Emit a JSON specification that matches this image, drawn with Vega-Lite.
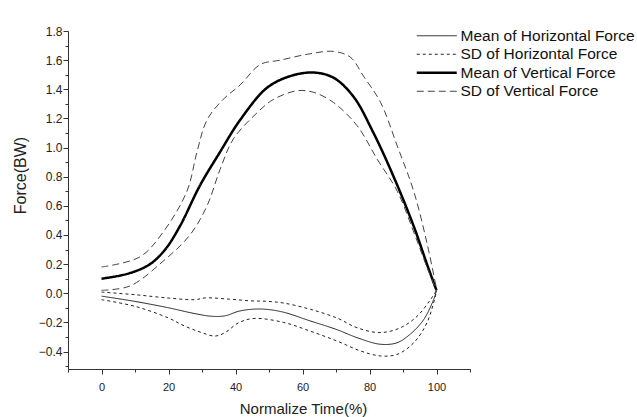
{
  "$schema": "https://vega.github.io/schema/vega-lite/v6.json",
  "autosize": {"type": "none"},
  "width": 402,
  "height": 338,
  "padding": {"left": 68, "top": 31, "right": 167, "bottom": 48},
  "background": "white",
  "config": {
    "view": {"stroke": null},
    "font": "Liberation Sans",
    "axis": {"grid": false, "domainColor": "#333", "tickColor": "#333", "labelColor": "#222", "labelFont": "Liberation Sans", "titleFont": "Liberation Sans", "titleFontWeight": "normal", "titleColor": "#222"}
  },
  "data": {"values": [
    {"t": 0, "v": 0.10, "series": "Mean of Vertical Force", "curve": "Vm"},
    {"t": 8, "v": 0.135, "series": "Mean of Vertical Force", "curve": "Vm"},
    {"t": 14.5, "v": 0.20, "series": "Mean of Vertical Force", "curve": "Vm"},
    {"t": 19, "v": 0.30, "series": "Mean of Vertical Force", "curve": "Vm"},
    {"t": 23.4, "v": 0.46, "series": "Mean of Vertical Force", "curve": "Vm"},
    {"t": 29.4, "v": 0.74, "series": "Mean of Vertical Force", "curve": "Vm"},
    {"t": 35.4, "v": 0.97, "series": "Mean of Vertical Force", "curve": "Vm"},
    {"t": 41.4, "v": 1.19, "series": "Mean of Vertical Force", "curve": "Vm"},
    {"t": 49.4, "v": 1.41, "series": "Mean of Vertical Force", "curve": "Vm"},
    {"t": 56.3, "v": 1.49, "series": "Mean of Vertical Force", "curve": "Vm"},
    {"t": 63.2, "v": 1.515, "series": "Mean of Vertical Force", "curve": "Vm"},
    {"t": 69.2, "v": 1.48, "series": "Mean of Vertical Force", "curve": "Vm"},
    {"t": 75.2, "v": 1.35, "series": "Mean of Vertical Force", "curve": "Vm"},
    {"t": 81.2, "v": 1.10, "series": "Mean of Vertical Force", "curve": "Vm"},
    {"t": 87.2, "v": 0.80, "series": "Mean of Vertical Force", "curve": "Vm"},
    {"t": 93.2, "v": 0.46, "series": "Mean of Vertical Force", "curve": "Vm"},
    {"t": 97.3, "v": 0.19, "series": "Mean of Vertical Force", "curve": "Vm"},
    {"t": 100, "v": 0.02, "series": "Mean of Vertical Force", "curve": "Vm"},

    {"t": 0, "v": 0.18, "series": "SD of Vertical Force", "curve": "Vu"},
    {"t": 11.5, "v": 0.25, "series": "SD of Vertical Force", "curve": "Vu"},
    {"t": 18.4, "v": 0.42, "series": "SD of Vertical Force", "curve": "Vu"},
    {"t": 25.5, "v": 0.70, "series": "SD of Vertical Force", "curve": "Vu"},
    {"t": 28.5, "v": 0.97, "series": "SD of Vertical Force", "curve": "Vu"},
    {"t": 31.5, "v": 1.19, "series": "SD of Vertical Force", "curve": "Vu"},
    {"t": 36.3, "v": 1.33, "series": "SD of Vertical Force", "curve": "Vu"},
    {"t": 41.4, "v": 1.43, "series": "SD of Vertical Force", "curve": "Vu"},
    {"t": 47.4, "v": 1.57, "series": "SD of Vertical Force", "curve": "Vu"},
    {"t": 53.4, "v": 1.60, "series": "SD of Vertical Force", "curve": "Vu"},
    {"t": 61.4, "v": 1.64, "series": "SD of Vertical Force", "curve": "Vu"},
    {"t": 69.2, "v": 1.66, "series": "SD of Vertical Force", "curve": "Vu"},
    {"t": 74.3, "v": 1.62, "series": "SD of Vertical Force", "curve": "Vu"},
    {"t": 78.2, "v": 1.49, "series": "SD of Vertical Force", "curve": "Vu"},
    {"t": 83.3, "v": 1.31, "series": "SD of Vertical Force", "curve": "Vu"},
    {"t": 88.3, "v": 1.01, "series": "SD of Vertical Force", "curve": "Vu"},
    {"t": 93.2, "v": 0.70, "series": "SD of Vertical Force", "curve": "Vu"},
    {"t": 97.3, "v": 0.33, "series": "SD of Vertical Force", "curve": "Vu"},
    {"t": 100, "v": 0.03, "series": "SD of Vertical Force", "curve": "Vu"},

    {"t": 0, "v": 0.02, "series": "SD of Vertical Force", "curve": "Vl"},
    {"t": 8.5, "v": 0.05, "series": "SD of Vertical Force", "curve": "Vl"},
    {"t": 18.4, "v": 0.22, "series": "SD of Vertical Force", "curve": "Vl"},
    {"t": 26.4, "v": 0.40, "series": "SD of Vertical Force", "curve": "Vl"},
    {"t": 31.5, "v": 0.60, "series": "SD of Vertical Force", "curve": "Vl"},
    {"t": 35.4, "v": 0.85, "series": "SD of Vertical Force", "curve": "Vl"},
    {"t": 39.4, "v": 1.06, "series": "SD of Vertical Force", "curve": "Vl"},
    {"t": 46.5, "v": 1.24, "series": "SD of Vertical Force", "curve": "Vl"},
    {"t": 51.3, "v": 1.33, "series": "SD of Vertical Force", "curve": "Vl"},
    {"t": 58.4, "v": 1.39, "series": "SD of Vertical Force", "curve": "Vl"},
    {"t": 63.2, "v": 1.38, "series": "SD of Vertical Force", "curve": "Vl"},
    {"t": 69.2, "v": 1.31, "series": "SD of Vertical Force", "curve": "Vl"},
    {"t": 76.3, "v": 1.15, "series": "SD of Vertical Force", "curve": "Vl"},
    {"t": 82.3, "v": 0.92, "series": "SD of Vertical Force", "curve": "Vl"},
    {"t": 88.3, "v": 0.70, "series": "SD of Vertical Force", "curve": "Vl"},
    {"t": 93.2, "v": 0.42, "series": "SD of Vertical Force", "curve": "Vl"},
    {"t": 97.3, "v": 0.17, "series": "SD of Vertical Force", "curve": "Vl"},
    {"t": 100, "v": 0.02, "series": "SD of Vertical Force", "curve": "Vl"},

    {"t": 0, "v": -0.02, "series": "Mean of Horizontal Force", "curve": "Hm"},
    {"t": 10, "v": -0.056, "series": "Mean of Horizontal Force", "curve": "Hm"},
    {"t": 20, "v": -0.10, "series": "Mean of Horizontal Force", "curve": "Hm"},
    {"t": 27.9, "v": -0.14, "series": "Mean of Horizontal Force", "curve": "Hm"},
    {"t": 32.9, "v": -0.158, "series": "Mean of Horizontal Force", "curve": "Hm"},
    {"t": 36.9, "v": -0.155, "series": "Mean of Horizontal Force", "curve": "Hm"},
    {"t": 40.9, "v": -0.124, "series": "Mean of Horizontal Force", "curve": "Hm"},
    {"t": 44.9, "v": -0.11, "series": "Mean of Horizontal Force", "curve": "Hm"},
    {"t": 49, "v": -0.11, "series": "Mean of Horizontal Force", "curve": "Hm"},
    {"t": 54.3, "v": -0.13, "series": "Mean of Horizontal Force", "curve": "Hm"},
    {"t": 62.3, "v": -0.19, "series": "Mean of Horizontal Force", "curve": "Hm"},
    {"t": 70.3, "v": -0.25, "series": "Mean of Horizontal Force", "curve": "Hm"},
    {"t": 76.3, "v": -0.305, "series": "Mean of Horizontal Force", "curve": "Hm"},
    {"t": 83.2, "v": -0.35, "series": "Mean of Horizontal Force", "curve": "Hm"},
    {"t": 88.2, "v": -0.34, "series": "Mean of Horizontal Force", "curve": "Hm"},
    {"t": 92.2, "v": -0.28, "series": "Mean of Horizontal Force", "curve": "Hm"},
    {"t": 96.2, "v": -0.18, "series": "Mean of Horizontal Force", "curve": "Hm"},
    {"t": 99.2, "v": -0.04, "series": "Mean of Horizontal Force", "curve": "Hm"},
    {"t": 100, "v": 0.02, "series": "Mean of Horizontal Force", "curve": "Hm"},

    {"t": 0, "v": 0.008, "series": "SD of Horizontal Force", "curve": "Hu"},
    {"t": 10, "v": -0.01, "series": "SD of Horizontal Force", "curve": "Hu"},
    {"t": 20, "v": -0.033, "series": "SD of Horizontal Force", "curve": "Hu"},
    {"t": 27.9, "v": -0.044, "series": "SD of Horizontal Force", "curve": "Hu"},
    {"t": 31, "v": -0.032, "series": "SD of Horizontal Force", "curve": "Hu"},
    {"t": 37.9, "v": -0.04, "series": "SD of Horizontal Force", "curve": "Hu"},
    {"t": 44.4, "v": -0.052, "series": "SD of Horizontal Force", "curve": "Hu"},
    {"t": 49, "v": -0.055, "series": "SD of Horizontal Force", "curve": "Hu"},
    {"t": 54.3, "v": -0.067, "series": "SD of Horizontal Force", "curve": "Hu"},
    {"t": 62.3, "v": -0.11, "series": "SD of Horizontal Force", "curve": "Hu"},
    {"t": 70.3, "v": -0.17, "series": "SD of Horizontal Force", "curve": "Hu"},
    {"t": 76.3, "v": -0.237, "series": "SD of Horizontal Force", "curve": "Hu"},
    {"t": 83.2, "v": -0.27, "series": "SD of Horizontal Force", "curve": "Hu"},
    {"t": 89.2, "v": -0.237, "series": "SD of Horizontal Force", "curve": "Hu"},
    {"t": 94.2, "v": -0.158, "series": "SD of Horizontal Force", "curve": "Hu"},
    {"t": 98.2, "v": -0.044, "series": "SD of Horizontal Force", "curve": "Hu"},
    {"t": 100, "v": 0.02, "series": "SD of Horizontal Force", "curve": "Hu"},

    {"t": 0, "v": -0.044, "series": "SD of Horizontal Force", "curve": "Hl"},
    {"t": 10, "v": -0.09, "series": "SD of Horizontal Force", "curve": "Hl"},
    {"t": 20, "v": -0.17, "series": "SD of Horizontal Force", "curve": "Hl"},
    {"t": 24.9, "v": -0.226, "series": "SD of Horizontal Force", "curve": "Hl"},
    {"t": 29.9, "v": -0.27, "series": "SD of Horizontal Force", "curve": "Hl"},
    {"t": 33.9, "v": -0.294, "series": "SD of Horizontal Force", "curve": "Hl"},
    {"t": 36.9, "v": -0.27, "series": "SD of Horizontal Force", "curve": "Hl"},
    {"t": 40.9, "v": -0.203, "series": "SD of Horizontal Force", "curve": "Hl"},
    {"t": 45.5, "v": -0.173, "series": "SD of Horizontal Force", "curve": "Hl"},
    {"t": 54.3, "v": -0.20, "series": "SD of Horizontal Force", "curve": "Hl"},
    {"t": 62.3, "v": -0.26, "series": "SD of Horizontal Force", "curve": "Hl"},
    {"t": 70.3, "v": -0.328, "series": "SD of Horizontal Force", "curve": "Hl"},
    {"t": 77.3, "v": -0.396, "series": "SD of Horizontal Force", "curve": "Hl"},
    {"t": 83.2, "v": -0.43, "series": "SD of Horizontal Force", "curve": "Hl"},
    {"t": 88.2, "v": -0.42, "series": "SD of Horizontal Force", "curve": "Hl"},
    {"t": 93.2, "v": -0.34, "series": "SD of Horizontal Force", "curve": "Hl"},
    {"t": 97.2, "v": -0.20, "series": "SD of Horizontal Force", "curve": "Hl"},
    {"t": 100, "v": 0.01, "series": "SD of Horizontal Force", "curve": "Hl"}
  ]},
  "resolve": {"axis": {"x": "independent", "y": "independent"}},
  "layer": [
    {
      "mark": {"type": "line", "interpolate": "catmull-rom"},
      "encoding": {
        "x": {"field": "t", "type": "quantitative", "scale": {"domain": [-10, 110], "nice": false, "zero": false},
          "axis": {"orient": "bottom", "values": [0, 20, 40, 60, 80, 100], "tickSize": 5, "labelFontSize": 11, "labelPadding": 7, "title": "Normalize Time(%)", "titleFontSize": 15, "titleX": 235, "titleY": 44, "titleAlign": "center", "titleBaseline": "alphabetic"}},
        "y": {"field": "v", "type": "quantitative", "scale": {"domain": [-0.52, 1.8], "nice": false, "zero": false},
          "axis": {"orient": "left", "values": [-0.4, -0.2, 0, 0.2, 0.4, 0.6, 0.8, 1.0, 1.2, 1.4, 1.6, 1.8], "format": ".1f", "tickSize": 5, "labelFontSize": 12, "labelPadding": 1, "title": "Force(BW)", "titleFontSize": 16, "titleX": -40, "titleY": 144, "titleAngle": -90, "titleAlign": "center", "titleBaseline": "bottom"}},
        "detail": {"field": "curve"},
        "color": {"field": "series", "type": "nominal", "title": null,
          "scale": {"domain": ["Mean of Horizontal Force", "SD of Horizontal Force", "Mean of Vertical Force", "SD of Vertical Force"], "range": ["#222", "#222", "#000", "#444"]},
          "legend": {"orient": "none", "legendX": 361, "legendY": -3, "symbolType": "M-4,0H4", "symbolSize": 100, "labelFontSize": 15.5, "labelLimit": 0, "labelColor": "#111", "labelFont": "Liberation Sans", "labelOffset": 16, "rowPadding": 1.5, "padding": 0,
            "encode": {"symbols": {"update": {"strokeWidth": {"signal": "datum.label === 'Mean of Vertical Force' ? 2.5 : 1"}}}}}},
        "strokeDash": {"field": "series", "type": "nominal", "title": null,
          "scale": {"domain": ["Mean of Horizontal Force", "SD of Horizontal Force", "Mean of Vertical Force", "SD of Vertical Force"], "range": [[1, 0], [3, 3], [1, 0], [7, 4]]}},
        "strokeWidth": {"condition": {"test": "datum.series === 'Mean of Vertical Force'", "value": 2.5}, "value": 1}
      }
    },
    {
      "mark": {"type": "line", "opacity": 0},
      "encoding": {
        "x": {"field": "t", "type": "quantitative", "scale": {"domain": [-10, 110], "nice": false, "zero": false},
          "axis": {"orient": "bottom", "values": [-10, 10, 30, 50, 70, 90, 110], "tickSize": 3, "labels": false, "domain": false, "title": null}},
        "y": {"field": "v", "type": "quantitative", "scale": {"domain": [-0.52, 1.8], "nice": false, "zero": false},
          "axis": {"orient": "left", "values": [-0.5, -0.3, -0.1, 0.1, 0.3, 0.5, 0.7, 0.9, 1.1, 1.3, 1.5, 1.7], "tickSize": 3, "labels": false, "domain": false, "title": null}},
        "detail": {"field": "curve"}
      }
    }
  ]
}
